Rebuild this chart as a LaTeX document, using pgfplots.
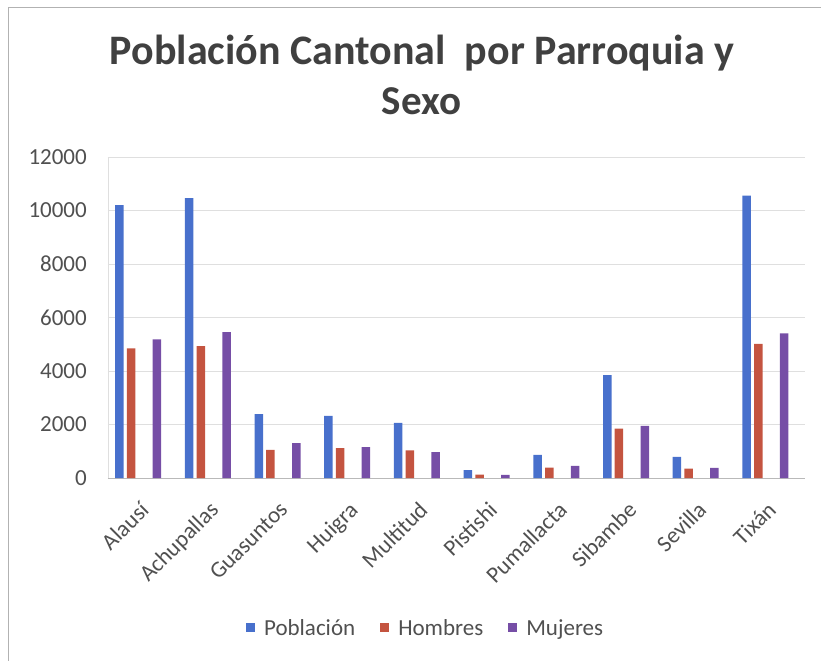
\documentclass[border=0pt]{standalone}
\usepackage{pgfplots}
\pgfplotsset{compat=1.18}
\usepackage{pgfplotstable}
\usepackage{fontspec}
\setmainfont{Carlito}

\definecolor{cblue}{RGB}{72,112,204}
\definecolor{cred}{RGB}{196,84,64}
\definecolor{cpurple}{RGB}{118,78,166}
\definecolor{ctitle}{RGB}{64,64,64}
\definecolor{clabel}{RGB}{80,80,80}

\pgfplotstableread{
i  pob    hom   muj
0  10200  4850  5180
1  10460  4930  5450
2  2390   1050  1300
3  2320   1120  1150
4  2060   1030  970
5  290    130   120
6  860    390   450
7  3850   1850  1950
8  790    350   380
9  10560  5010  5410
}\datos

\begin{document}
\begin{tikzpicture}
% page = 821 x 661, plot area lower left at (0,0)
\path[use as bounding box] (-108bp,-183bp) rectangle (713bp,478bp);
\draw[gray!60, line width=0.8bp] (-100bp,-183bp) -- (-100bp,471bp) -- (713bp,471bp);

\node[anchor=base, text=ctitle, font=\fontsize{42bp}{50bp}\selectfont\bfseries]
  at (314bp,413bp) {Población Cantonal\ \ por Parroquia y};
\node[anchor=base, text=ctitle, font=\fontsize{41bp}{50bp}\selectfont\bfseries]
  at (313.5bp,363bp) {Sexo};

\begin{axis}[
  at={(0bp,0bp)}, anchor=south west,
  scale only axis, width=697bp, height=321bp,
  ybar, bar width=8.5bp,
  xmin=-0.5, xmax=9.5, ymin=0, ymax=12000,
  ytick={0,2000,...,12000},
  xtick={0,...,9},
  xticklabels={Alausí,Achupallas,Guasuntos,Huigra,Multitud,Pistishi,Pumallacta,Sibambe,Sevilla,Tixán},
  major tick length=0pt,
  ymajorgrids, grid style={gray!25, line width=0.8bp},
  axis x line*=bottom, axis y line*=left,
  x axis line style={-, gray!55, line width=0.8bp},
  y axis line style={-, gray!25, line width=0.8bp},
  /pgf/number format/assume math mode=true,
  /pgf/number format/1000 sep={},
  scaled y ticks=false,
  tick label style={font=\fontsize{23bp}{27bp}\selectfont, text=clabel},
  yticklabel style={inner sep=0pt, anchor=east, xshift=-21bp},
  xticklabel style={inner sep=0pt, xshift=-4bp, yshift=-22bp, rotate=45, anchor=north east},
  legend style={draw=none, fill=none, at={(0.455,-0.467)}, anchor=center,
    legend columns=3, font=\fontsize{23bp}{27bp}\selectfont, text=clabel,
    nodes={inner sep=1bp},
    /tikz/every odd column/.append style={column sep=8bp},
    /tikz/every even column/.append style={column sep=24bp}},
  legend image code/.code={\fill[#1] (0bp,-4.5bp) rectangle (9bp,4.5bp);},
]
\addplot[fill=cblue, draw=none, bar shift=-23.5bp] table[x=i, y=pob] {\datos};
\addplot[fill=cred, draw=none, bar shift=-11.8bp] table[x=i, y=hom] {\datos};
\addplot[fill=cpurple, draw=none, bar shift=14bp] table[x=i, y=muj] {\datos};
\legend{Población, Hombres, Mujeres}
\end{axis}
\end{tikzpicture}
\end{document}
